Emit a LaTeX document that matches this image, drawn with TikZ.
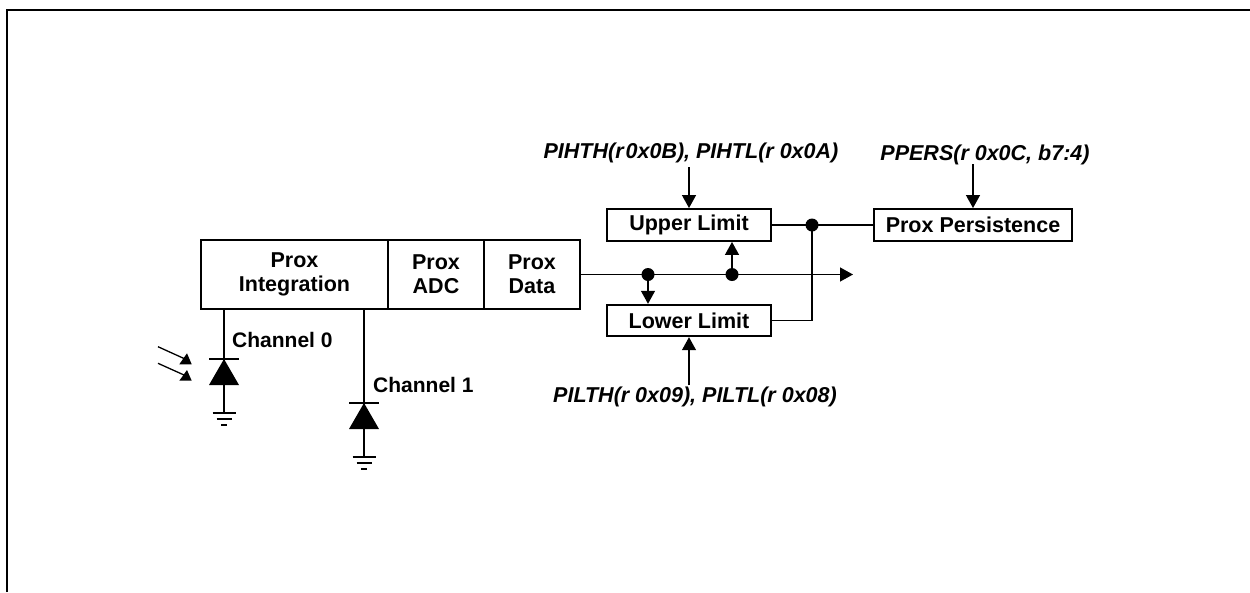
\documentclass[tikz,border=0pt]{standalone}
\usepackage{fontspec}
\setmainfont{Liberation Sans}
\usetikzlibrary{arrows.meta,calc}
\begin{document}
\begin{tikzpicture}[x=1pt,y=-1pt,
  box/.style={draw,line width=2.4pt,rectangle,inner sep=0pt,align=center,
    font=\fontsize{21.5}{24}\selectfont\bfseries},
  wire/.style={line width=1.3pt},
  arr/.style={wire,-{Triangle[length=13pt,width=14pt]}},
  dot/.style={circle,fill,inner sep=0pt,minimum size=13pt},
  lab/.style={inner sep=0pt,font=\fontsize{21}{24}\selectfont\bfseries},
  reglab/.style={inner sep=0pt,font=\fontsize{21.5}{24}\selectfont\bfseries\itshape},
  pics/pdiode/.style={code={
    \fill (-15,26) -- (15,26) -- (0,0) -- cycle;
    \draw[line width=1.5pt] (-15,0) -- (15,0);
    \draw[wire] (0,0) -- (0,54);
    \draw[line width=1.8pt] (-11.5,54) -- (11.5,54);
    \draw[line width=1.8pt] (-7.5,60) -- (7.5,60);
    \draw[line width=1.8pt] (-3,66) -- (3,66);
  }}
]
\useasboundingbox (0,0) rectangle (1250,592);
% frame
\draw[line width=2pt] (7,592) -- (7,10) -- (1250,10);

% main blocks
\node[box,minimum width=187pt,minimum height=69pt] (integ) at (294.5,274.5) {Prox\\Integration};
\node[box,minimum width=96pt,minimum height=69pt] (adc) at (436,274.5) {Prox\\ADC};
\node[box,minimum width=96pt,minimum height=69pt] (data) at (532,274.5) {Prox\\Data};
\node[box,minimum width=163.5pt,minimum height=31.5pt] (upper) at (689,225) {Upper Limit};
\node[box,minimum width=163.5pt,minimum height=31pt] (lower) at (689,320.5) {Lower Limit};
\node[box,minimum width=197.5pt,minimum height=31.5pt] (pers) at (973,225) {Prox Persistence};

% register labels
\node[reglab] (toplab) at (691,153) {PIHTH(r\kern2pt 0x0B), PIHTL(r 0x0A)};
\node[reglab] (botlab) at (695,397) {PILTH(r 0x09), PILTL(r 0x08)};
\node[reglab] (perslab) at (985,155) {PPERS(r 0x0C, b7:4)};

% arrow sources under/over the labels
\coordinate (ts) at (689,167);
\coordinate (bs) at (689,385);
\coordinate (ps) at (973,164);

% junctions
\node[dot] (d1) at (648,274.5) {};
\node[dot] (d2) at (732,274.5) {};
\node[dot] (d3) at (812,225) {};
\coordinate (out) at (853,274.5);

% data path
\draw[arr] (data.east) -- (out);
\draw[arr] (d1.center) -- (d1.center |- lower.north);
\draw[arr] (d2.center) -- (d2.center |- upper.south);
\draw[wire] (upper.east) -- (pers.west);
\draw[wire] (lower.east) -| (d3.center);
\draw[arr] (ts) -- (upper.north);
\draw[arr] (bs) -- (lower.south);
\draw[arr] (ps) -- (pers.north);

% photodiodes
\coordinate (k0) at (224,359);
\coordinate (k1) at (364,403);
\draw[wire] (integ.south -| k0) -- (k0);
\draw[wire] (integ.south -| k1) -- (k1);
\pic at (k0) {pdiode};
\pic at (k1) {pdiode};
\node[lab,anchor=west] (ch0) at (232,340) {Channel 0};
\node[lab,anchor=west] (ch1) at (373,385) {Channel 1};

% incident light
\draw[wire] (158,346.7) -- (184,358.5);
\fill (179.3,364.3) -- (191.7,364.3) -- (187,353.3) -- cycle;
\draw[wire] (158,363.3) -- (184,375);
\fill (179.3,380.7) -- (191.7,380.7) -- (187,370) -- cycle;
\end{tikzpicture}
\end{document}
